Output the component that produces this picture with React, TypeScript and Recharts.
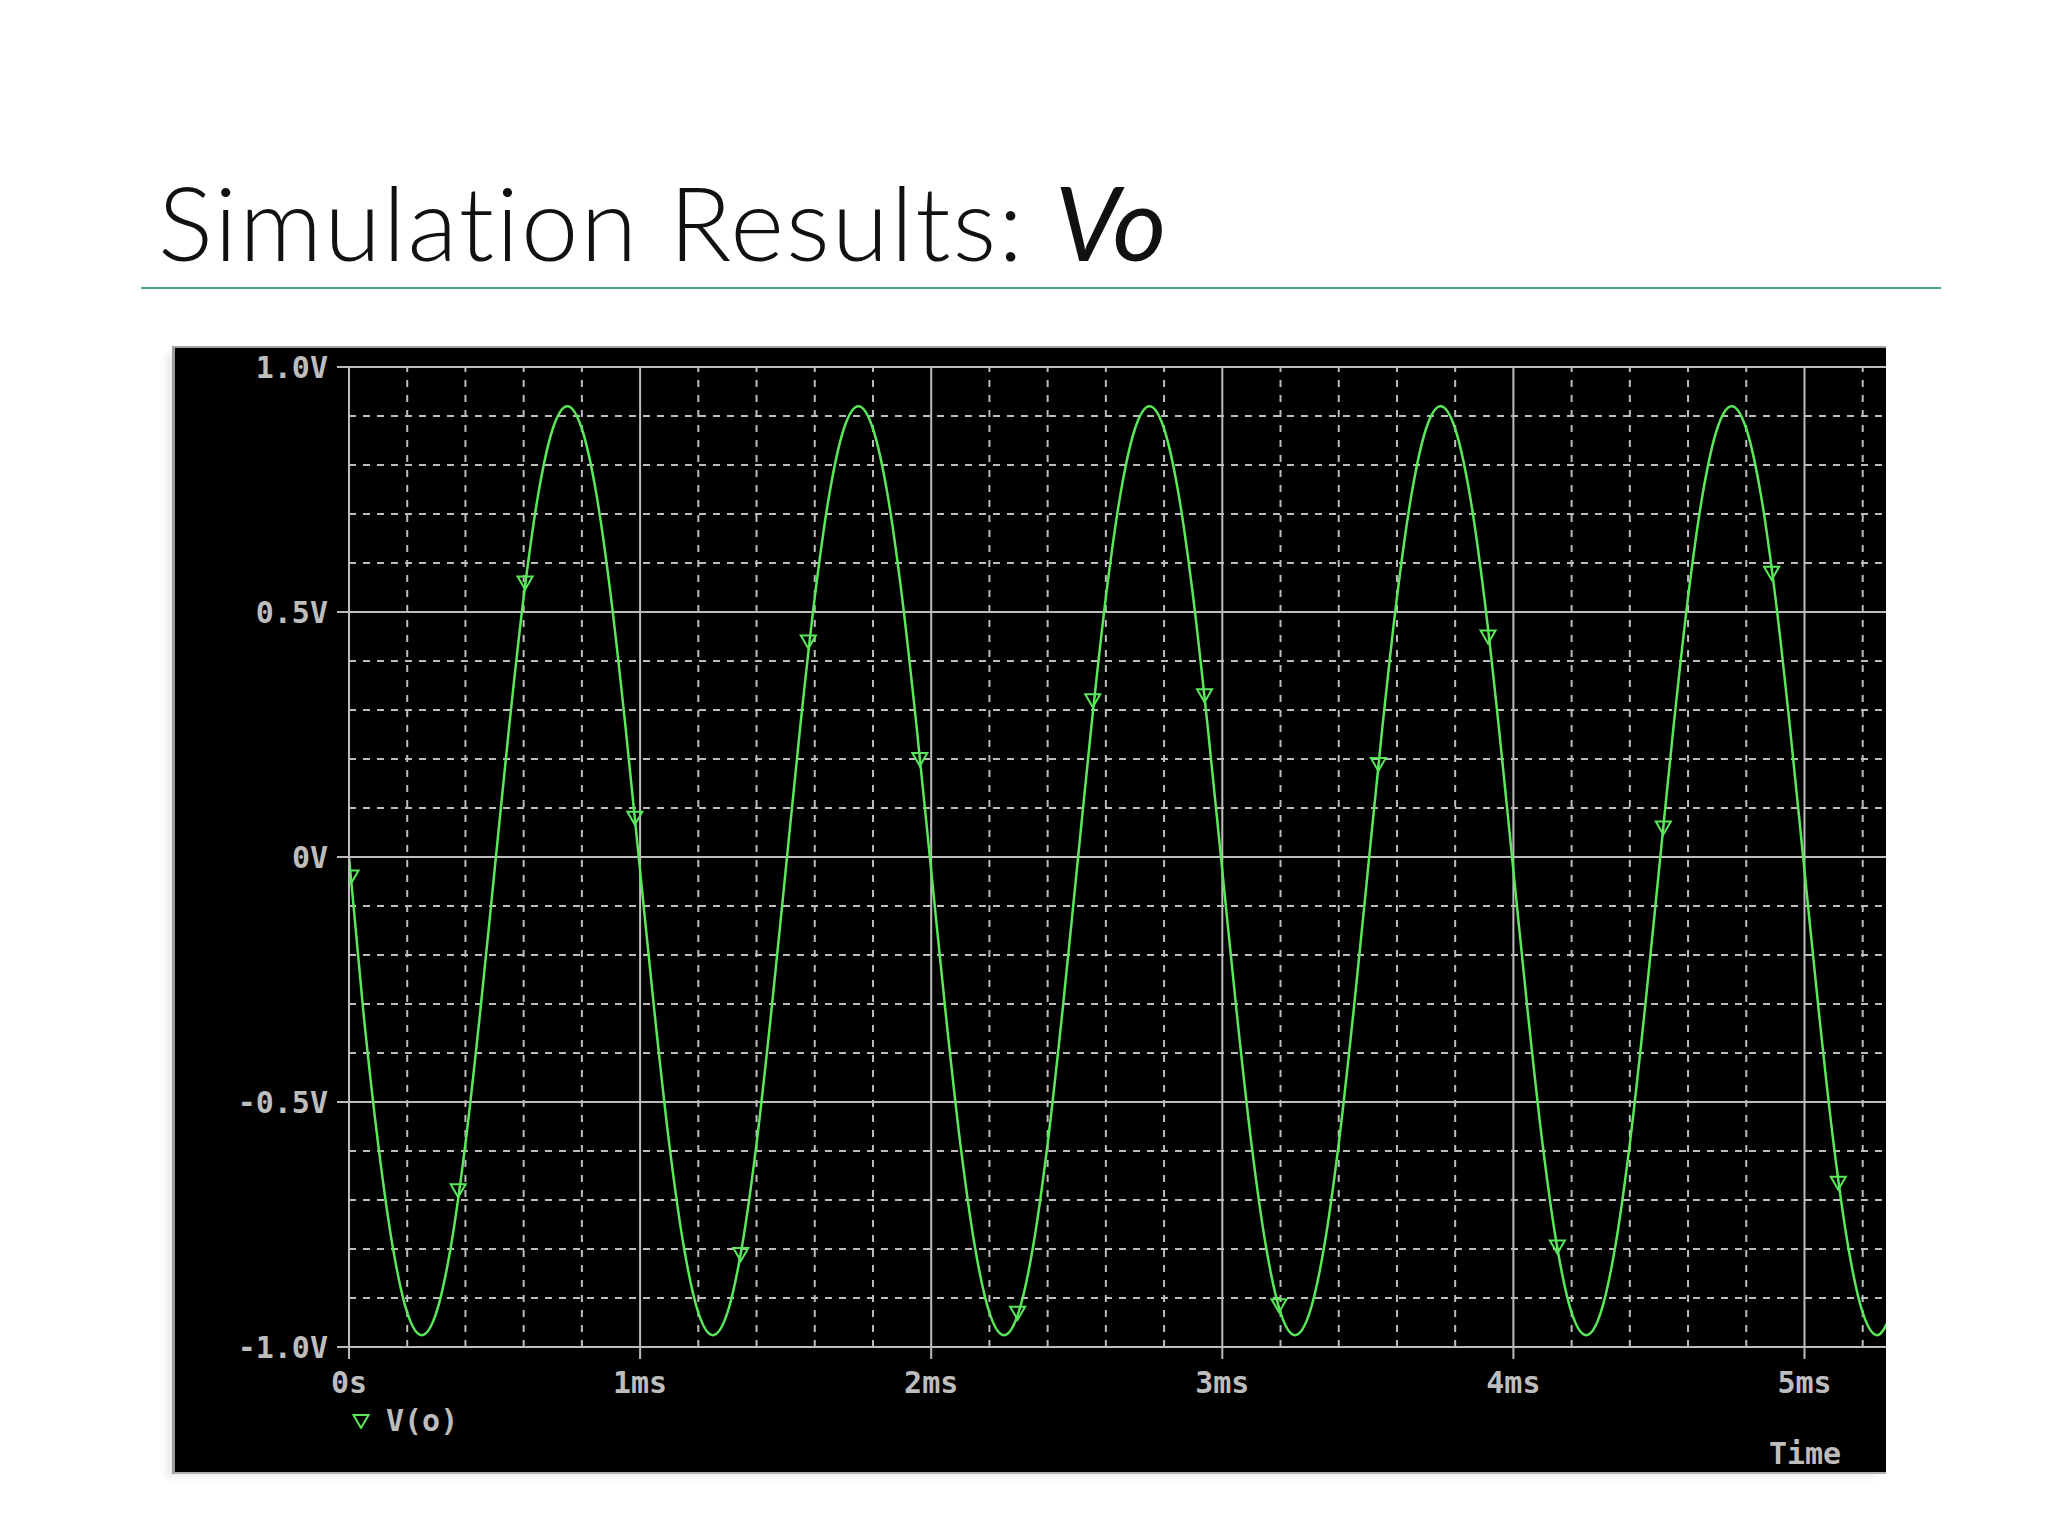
import React from "react";
import { ComposedChart, Line, XAxis, YAxis, ReferenceLine, Label } from "recharts";

// sampling of the V(o) trace, one sample every 0.05 ms
const SAMPLE_STEP_MS = 0.05;

// values, one list per 1 ms cycle (20 samples each)
const cycle1 = [0.0, -0.32, -0.585, -0.795, -0.93, -0.976, -0.93, -0.795, -0.585, -0.32, -0.028, 0.265, 0.53, 0.74, 0.874, 0.92, 0.874, 0.74, 0.53, 0.265];
const cycle2 = [-0.028, -0.32, -0.585, -0.795, -0.93, -0.976, -0.93, -0.795, -0.585, -0.32, -0.028, 0.265, 0.53, 0.74, 0.874, 0.92, 0.874, 0.74, 0.53, 0.265];
const cycle3 = [-0.028, -0.32, -0.585, -0.795, -0.93, -0.976, -0.93, -0.795, -0.585, -0.32, -0.028, 0.265, 0.53, 0.74, 0.874, 0.92, 0.874, 0.74, 0.53, 0.265];
const cycle4 = [-0.028, -0.32, -0.585, -0.795, -0.93, -0.976, -0.93, -0.795, -0.585, -0.32, -0.028, 0.265, 0.53, 0.74, 0.874, 0.92, 0.874, 0.74, 0.53, 0.265];
const cycle5 = [-0.028, -0.32, -0.585, -0.795, -0.93, -0.976, -0.93, -0.795, -0.585, -0.32, -0.028, 0.265, 0.53, 0.74, 0.874, 0.92, 0.874, 0.74, 0.53, 0.265];
const tail = [-0.028, -0.32, -0.585, -0.795, -0.93, -0.976, -0.93];

// triangle markers drawn by the simulator on the trace
const markerTimes = [0.007, 0.375, 0.605, 0.982, 1.346, 1.578, 1.961, 2.297, 2.555, 2.939, 3.195, 3.536, 3.913, 4.151, 4.515, 4.887, 5.116];
const markerValues = [-0.04, -0.68, 0.56, 0.08, -0.81, 0.44, 0.2, -0.93, 0.32, 0.33, -0.915, 0.19, 0.45, -0.795, 0.06, 0.58, -0.665];

const xTicks = [0, 1, 2, 3, 4, 5];
const xTickLabels = ["0s", "1ms", "2ms", "3ms", "4ms", "5ms"];
const xMinorGrid = [0.2, 0.4, 0.6, 0.8, 1.2, 1.4, 1.6, 1.8, 2.2, 2.4, 2.6, 2.8, 3.2, 3.4, 3.6, 3.8, 4.2, 4.4, 4.6, 4.8, 5.2];
const xMajorGrid = [1, 2, 3, 4, 5];

const yTicks = [-1, -0.5, 0, 0.5, 1];
const yTickLabels = ["-1.0V", "-0.5V", "0V", "0.5V", "1.0V"];
const yMinorGrid = [-0.9, -0.8, -0.7, -0.6, -0.4, -0.3, -0.2, -0.1, 0.1, 0.2, 0.3, 0.4, 0.6, 0.7, 0.8, 0.9];
const yMajorGrid = [-0.5, 0, 0.5, 1];

const traceValues = [...cycle1, ...cycle2, ...cycle3, ...cycle4, ...cycle5, ...tail];
const traceData = traceValues.map((v, i) => ({ t: +(i * SAMPLE_STEP_MS).toFixed(2), v }));
const markerData = markerTimes.map((t, i) => ({ t, v: markerValues[i] }));

const MONO = '"DejaVu Sans Mono", "Liberation Mono", monospace';
const GRID = "#bcbcbc";
const TEXT = "#bdbdbd";
const TRACE = "#5ae85a";

const tickStyle = { fill: TEXT, fontSize: 30, fontFamily: MONO, fontWeight: 700 };

function TriangleDot(props: any) {
  const { cx, cy, index } = props;
  if (cx == null || cy == null) return null;
  return (
    <path
      key={`m-${index}`}
      d={`M${cx - 7.5},${cy - 6} L${cx + 7.5},${cy - 6} L${cx},${cy + 7} Z`}
      fill="none"
      stroke={TRACE}
      strokeWidth={2}
    />
  );
}

function TimeLabel(props: any) {
  const { viewBox } = props;
  if (!viewBox) return null;
  return (
    <text
      x={viewBox.x + viewBox.width - 81}
      y={viewBox.y + 117}
      textAnchor="middle"
      fill={TEXT}
      fontSize={30}
      fontWeight={700}
      fontFamily={MONO}
    >
      Time
    </text>
  );
}

export default function App() {
  return (
    <div
      style={{
        position: "absolute",
        left: 0,
        top: 0,
        width: 2048,
        height: 1536,
        background: "#ffffff",
        overflow: "hidden",
      }}
    >
      <svg width={2048} height={300} style={{ position: "absolute", left: 0, top: 0 }}>
        <text
          x={158}
          y={261}
          fontFamily="Lato, 'Open Sans', sans-serif"
          fontWeight={300}
          fontSize={103}
          letterSpacing={2}
          fill="#111"
          style={{ fontVariantLigatures: "none" }}
        >
          Simulation Results:{" "}
          <tspan fontStyle="italic" fontWeight={400} letterSpacing={0}>
            Vo
          </tspan>
        </text>
      </svg>
      <div style={{ position: "absolute", left: 141, top: 287, width: 1800, height: 2, background: "#47a585" }} />

      {/* black scope panel */}
      <div
        style={{
          position: "absolute",
          left: 172,
          top: 346,
          width: 1714,
          height: 1128,
          boxSizing: "border-box",
          background: "#000",
          borderLeft: "3px solid #9c9c9c",
          borderTop: "2px solid #a4a4a4",
          borderBottom: "2px solid #b0b0b0",
          boxShadow: "-8px 6px 6px -2px rgba(0,0,0,0.07)",
        }}
      />

      <div style={{ position: "absolute", left: 173, top: 346 }}>
        <ComposedChart
          width={1713}
          height={1127}
          data={traceData}
          margin={{ top: 21, right: 0, bottom: 0, left: 0 }}
        >
          {yMinorGrid.map((v) => (
            <ReferenceLine key={`ym${v}`} y={v} stroke={GRID} strokeWidth={2} strokeDasharray="7 7" zIndex={-100} />
          ))}
          {xMinorGrid.map((v) => (
            <ReferenceLine key={`xm${v}`} x={v} stroke={GRID} strokeWidth={2} strokeDasharray="7 8" zIndex={-100} />
          ))}
          {yMajorGrid.map((v) => (
            <ReferenceLine key={`yM${v}`} y={v} stroke={GRID} strokeWidth={2} zIndex={-100} />
          ))}
          {xMajorGrid.map((v) => (
            <ReferenceLine key={`xM${v}`} x={v} stroke={GRID} strokeWidth={2} zIndex={-100} />
          ))}
          <XAxis
            dataKey="t"
            type="number"
            domain={[0, 5.28]}
            allowDataOverflow
            ticks={xTicks}
            interval={0}
            tickFormatter={(v: number) => xTickLabels[xTicks.indexOf(v)] ?? ""}
            tick={tickStyle}
            tickSize={12}
            tickMargin={13}
            height={126}
            axisLine={{ stroke: GRID, strokeWidth: 2 }}
            tickLine={{ stroke: GRID, strokeWidth: 2 }}
          >
            <Label content={TimeLabel} />
          </XAxis>
          <YAxis
            type="number"
            domain={[-1, 1]}
            allowDataOverflow
            ticks={yTicks}
            interval={0}
            tickFormatter={(v: number) => yTickLabels[yTicks.indexOf(v)] ?? ""}
            tick={tickStyle}
            tickSize={12}
            tickMargin={9}
            width={176}
            axisLine={{ stroke: GRID, strokeWidth: 2 }}
            tickLine={{ stroke: GRID, strokeWidth: 2 }}
          />
          <Line
            dataKey="v"
            type="monotone"
            stroke={TRACE}
            strokeWidth={2.5}
            dot={false}
            activeDot={false}
            isAnimationActive={false}
          />
          <Line
            data={markerData}
            dataKey="v"
            stroke="none"
            dot={TriangleDot}
            activeDot={false}
            legendType="none"
            isAnimationActive={false}
          />
        </ComposedChart>
      </div>

      {/* series legend */}
      <div
        style={{
          position: "absolute",
          left: 352,
          top: 1403,
          display: "flex",
          alignItems: "center",
          gap: 16,
          fontFamily: MONO,
          fontSize: 30,
          fontWeight: 700,
          color: TEXT,
          lineHeight: "36px",
        }}
      >
        <svg width={18} height={16}>
          <path d="M1.5,2 L16.5,2 L9,15 Z" fill="none" stroke={TRACE} strokeWidth={2} />
        </svg>
        <span>V(o)</span>
      </div>
    </div>
  );
}
